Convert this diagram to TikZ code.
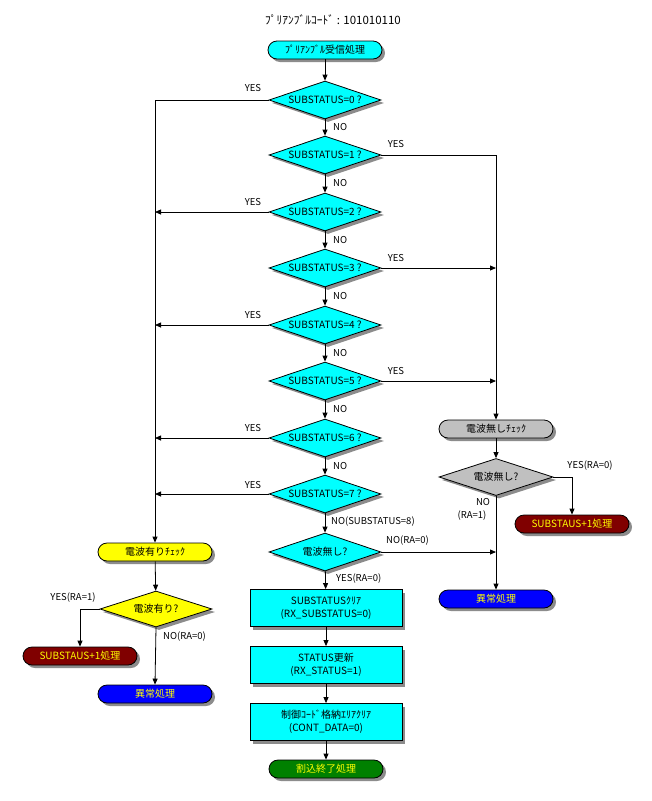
\documentclass[tikz,border=0pt]{standalone}
\usepackage{fontspec}
\setmainfont{Noto Sans CJK JP}
\usetikzlibrary{shapes.geometric,arrows.meta,shadows}
\definecolor{ccyan}{RGB}{0,255,255}
\definecolor{cyel}{RGB}{255,255,0}
\definecolor{cgray}{RGB}{192,192,192}
\definecolor{cdred}{RGB}{128,0,0}
\definecolor{cblue}{RGB}{0,0,255}
\definecolor{cgreen}{RGB}{0,128,0}
\definecolor{cshadow}{RGB}{140,140,140}
\begin{document}
\begin{tikzpicture}[x=1pt,y=-1pt,
  font=\fontsize{10}{12}\selectfont,
  shad/.style={drop shadow={shadow xshift=3pt,shadow yshift=-3pt,fill=cshadow,opacity=1}},
  term/.style={draw,line width=0.8pt,rounded corners=9pt,minimum width=114pt,minimum height=18pt,inner sep=0pt,shad},
  dec/.style={draw,line width=0.8pt,diamond,shape aspect=2.95,minimum width=112pt,minimum height=38pt,inner sep=0pt,shad},
  proc/.style={draw,line width=0.8pt,rectangle,minimum width=152pt,minimum height=37pt,inner sep=0pt,align=center,fill=ccyan,shad,font=\fontsize{10}{13}\selectfont},
  lbl/.style={inner sep=0pt,font=\fontsize{9.5}{11}\selectfont},
  arr/.style={line width=0.8pt,-{Triangle[length=6pt,width=5pt]}},
  ln/.style={line width=0.8pt}]
\useasboundingbox (0,0) rectangle (651,801);
\fill[white] (0,0) rectangle (651,801);

\node[font=\fontsize{11.5}{13}\selectfont] (title) at (333,20) {ﾌﾟﾘｱﾝﾌﾞﾙｺｰﾄﾞ : 101010110};
\node[term,fill=ccyan] (start) at (325,50) {ﾌﾟﾘｱﾝﾌﾞﾙ受信処理};

\node[dec,fill=ccyan] (d0) at (325,100) {SUBSTATUS=0 ?};
\node[dec,fill=ccyan] (d1) at (325,155) {SUBSTATUS=1 ?};
\node[dec,fill=ccyan] (d2) at (325,212) {SUBSTATUS=2 ?};
\node[dec,fill=ccyan] (d3) at (325,268) {SUBSTATUS=3 ?};
\node[dec,fill=ccyan] (d4) at (325,325) {SUBSTATUS=4 ?};
\node[dec,fill=ccyan] (d5) at (325,381) {SUBSTATUS=5 ?};
\node[dec,fill=ccyan] (d6) at (325,438) {SUBSTATUS=6 ?};
\node[dec,fill=ccyan] (d7) at (325,494) {SUBSTATUS=7 ?};
\node[dec,fill=ccyan] (dn) at (325,552) {電波無し?};

\node[proc] (r1) at (326,608) {SUBSTATUSｸﾘｱ\\(RX\_SUBSTATUS=0)};
\node[proc] (r2) at (326,665) {STATUS更新\\(RX\_STATUS=1)};
\node[proc] (r3) at (326,722) {制御ｺｰﾄﾞ格納ｴﾘｱｸﾘｱ\\(CONT\_DATA=0)};
\node[term,fill=cgreen,text=cyel] (end) at (326,769) {割込終了処理};

% left column
\node[term,fill=cyel] (ly) at (155,552) {電波有りﾁｪｯｸ};
\node[dec,fill=cyel,minimum height=36pt] (dy) at (156,609) {電波有り?};
\node[term,fill=cdred,text=cyel] (ls) at (80,656) {SUBSTAUS+1処理};
\node[term,fill=cblue,text=cyel] (le) at (155,694) {異常処理};

% right column
\node[term,fill=cgray] (rg) at (496,429) {電波無しﾁｪｯｸ};
\node[dec,fill=cgray,minimum width=114pt,minimum height=37pt] (dg) at (496,477) {電波無し?};
\node[term,fill=cdred,text=cyel] (rs) at (572,524) {SUBSTAUS+1処理};
\node[term,fill=cblue,text=cyel] (re) at (496,599) {異常処理};

% main flow
\draw[arr] (start) -- (d0);
\draw[arr] (d0) -- (d1);
\draw[arr] (d1) -- (d2);
\draw[arr] (d2) -- (d3);
\draw[arr] (d3) -- (d4);
\draw[arr] (d4) -- (d5);
\draw[arr] (d5) -- (d6);
\draw[arr] (d6) -- (d7);
\draw[arr] (d7) -- (dn);
\draw[arr] (dn) -- (r1);
\draw[arr] (r1) -- (r2);
\draw[arr] (r2) -- (r3);
\draw[arr] (r3) -- (end);

% left branches
\draw[arr] (d0.west) -| (ly.north);
\draw[arr] (d2.west) -- (d2.west -| ly.north);
\draw[arr] (d4.west) -- (d4.west -| ly.north);
\draw[arr] (d6.west) -- (d6.west -| ly.north);
\draw[arr] (d7.west) -- (d7.west -| ly.north);
\draw[arr] (ly) -- (dy);
\draw[arr] (dy.west) -| (ls.north);
\draw[arr] (dy.south) -- (le.north);

% right branches
\draw[arr] (d1.east) -| (rg.north);
\draw[arr] (d3.east) -- (d3.east -| rg.north);
\draw[arr] (d5.east) -- (d5.east -| rg.north);
\draw[arr] (dn.east) -- (dn.east -| re.north);
\draw[arr] (rg) -- (dg);
\draw[arr] (dg.east) -| (rs.north);
\draw[arr] (dg.south) -- (re.north);

% labels
\node[lbl] (y0) at (253,88) {YES};
\node[lbl] (y2) at (253,202) {YES};
\node[lbl] (y4) at (253,315) {YES};
\node[lbl] (y6) at (253,428) {YES};
\node[lbl] (y7) at (253,485) {YES};
\node[lbl] (y1) at (396,144) {YES};
\node[lbl] (y3) at (396,258) {YES};
\node[lbl] (y5) at (396,371) {YES};
\node[lbl,anchor=west] (n0) at (333,127) {NO};
\node[lbl,anchor=west] (n1) at (333,183) {NO};
\node[lbl,anchor=west] (n2) at (333,240) {NO};
\node[lbl,anchor=west] (n3) at (333,296) {NO};
\node[lbl,anchor=west] (n4) at (333,353) {NO};
\node[lbl,anchor=west] (n5) at (333,409) {NO};
\node[lbl,anchor=west] (n6) at (333,466) {NO};
\node[lbl,anchor=west] (n7) at (331,522) {NO(SUBSTATUS=8)};
\node[lbl,anchor=west] (nn) at (386,541) {NO(RA=0)};
\node[lbl,anchor=west] (yn) at (336,579) {YES(RA=0)};
\node[lbl] (yy) at (73,598) {YES(RA=1)};
\node[lbl,anchor=west] (ny) at (163,637) {NO(RA=0)};
\node[lbl] (yg) at (590,466) {YES(RA=0)};
\node[lbl] (ng) at (483,502) {NO};
\node[lbl] (ng2) at (472,516) {(RA=1)};
\end{tikzpicture}
\end{document}
